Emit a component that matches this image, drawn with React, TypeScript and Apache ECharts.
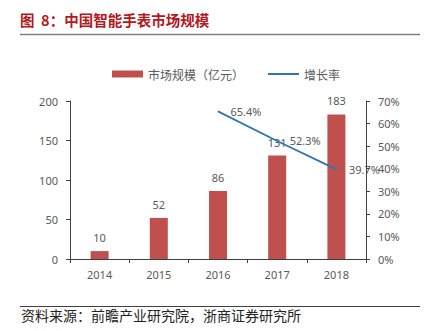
import React, { useEffect, useRef } from "react";
import * as echarts from "echarts";

const categories = ["2014", "2015", "2016", "2017", "2018"];
const marketSize = [10, 52, 86, 131, 183];
const growthRate: (number | string)[] = ["-", "-", 65.4, 52.3, 39.7];
const leftTicks = { min: 0, max: 200, interval: 50 };
const rightTicks = { min: 0, max: 70, interval: 10 };

const titleText = "图  8：中国智能手表市场规模";
const sourceText = "资料来源：前瞻产业研究院，浙商证券研究所";
const barName = "市场规模（亿元）";
const lineName = "增长率";

const FONT = "'Noto Sans', 'Noto Sans CJK SC', sans-serif";
const CJK = "'Noto Sans CJK SC', sans-serif";
const GRAY = "#595959";
const AXIS = "#404040";

export default function App() {
  const ref = useRef<HTMLDivElement>(null);
  useEffect(() => {
    if (!ref.current) return;
    const chart = echarts.init(ref.current, null, { renderer: "svg" });
    chart.setOption({
      animation: false,
      backgroundColor: "#ffffff",
      graphic: [
        {
          type: "text",
          left: 20,
          top: 12,
          style: {
            text: titleText,
            fill: "#B4191E",
            font: `bold 14.5px ${CJK}`,
          },
        },
        {
          type: "line",
          shape: { x1: 20, y1: 34.5, x2: 420, y2: 34.5 },
          style: { stroke: "#7F7F7F", lineWidth: 1.5 },
        },
        {
          type: "line",
          shape: { x1: 20, y1: 306.5, x2: 420, y2: 306.5 },
          style: { stroke: "#404040", lineWidth: 1 },
        },
        {
          type: "text",
          left: 21,
          top: 308,
          style: {
            text: sourceText,
            fill: "#222222",
            font: `14px ${CJK}`,
          },
        },
      ],
      legend: {
        left: 107,
        top: 63,
        itemGap: 24,
        itemWidth: 31,
        itemHeight: 7,
        textStyle: { color: GRAY, fontSize: 12, fontFamily: CJK },
        data: [
          { name: barName, icon: "rect" },
          { name: lineName, icon: "path://M0 0H31V2H0Z" },
        ],
      },
      grid: { left: 70, right: 59, top: 101, bottom: 72 },
      xAxis: {
        type: "category",
        data: categories,
        axisLine: { lineStyle: { color: AXIS, width: 1 } },
        axisTick: { show: true, length: 4, lineStyle: { color: AXIS } },
        axisLabel: { color: GRAY, fontSize: 11, fontFamily: FONT, margin: 10 },
      },
      yAxis: [
        {
          type: "value",
          min: leftTicks.min,
          max: leftTicks.max,
          interval: leftTicks.interval,
          splitLine: { show: false },
          axisLine: { show: true, lineStyle: { color: AXIS, width: 1 } },
          axisTick: { show: true, length: 4, lineStyle: { color: AXIS } },
          axisLabel: { color: GRAY, fontSize: 11, fontFamily: FONT, margin: 12 },
        },
        {
          type: "value",
          min: rightTicks.min,
          max: rightTicks.max,
          interval: rightTicks.interval,
          splitLine: { show: false },
          axisLine: { show: true, lineStyle: { color: AXIS, width: 1 } },
          axisTick: { show: true, length: 4, lineStyle: { color: AXIS } },
          axisLabel: {
            color: GRAY,
            fontSize: 11,
            fontFamily: FONT,
            margin: 12,
            formatter: "{value}%",
          },
        },
      ],
      series: [
        {
          name: barName,
          type: "bar",
          data: marketSize,
          barWidth: 18,
          itemStyle: { color: "#C0504D" },
          label: {
            show: true,
            position: "top",
            distance: 8,
            color: GRAY,
            fontSize: 11,
            fontFamily: FONT,
          },
        },
        {
          name: lineName,
          type: "line",
          yAxisIndex: 1,
          data: growthRate,
          symbol: "circle",
          symbolSize: 1,
          itemStyle: { color: "#2E75B6" },
          lineStyle: { color: "#2E75B6", width: 1.8 },
          label: {
            show: true,
            position: "right",
            distance: 12,
            color: GRAY,
            fontSize: 11,
            fontFamily: FONT,
            formatter: (p: any) => `${p.value}%`,
          },
        },
      ],
    });
    return () => chart.dispose();
  }, []);
  return (
    <div
      ref={ref}
      style={{ position: "fixed", left: 0, top: 0, width: 425, height: 331 }}
    />
  );
}
